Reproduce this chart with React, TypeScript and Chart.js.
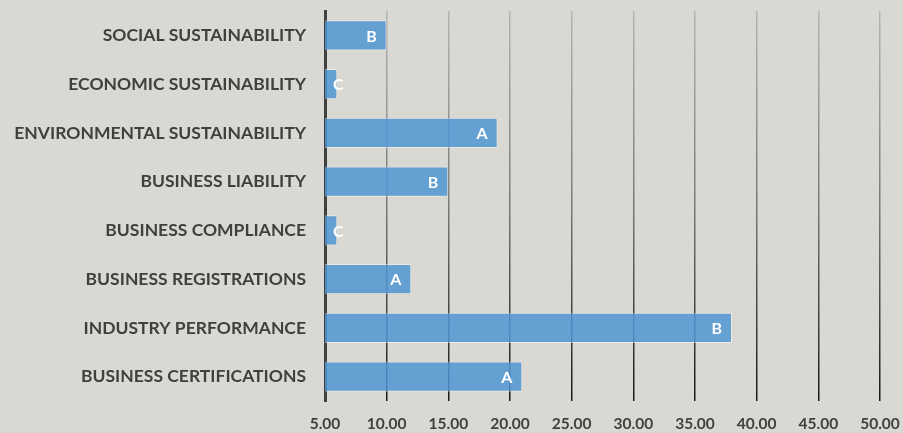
import React, { useEffect, useRef } from "react";
import { Chart, registerables } from "chart.js";

Chart.register(...registerables);

const categories = [
  "SOCIAL SUSTAINABILITY",
  "ECONOMIC SUSTAINABILITY",
  "ENVIRONMENTAL SUSTAINABILITY",
  "BUSINESS LIABILITY",
  "BUSINESS COMPLIANCE",
  "BUSINESS REGISTRATIONS",
  "INDUSTRY PERFORMANCE",
  "BUSINESS CERTIFICATIONS",
];
const scores = [10, 6, 19, 15, 6, 12, 38, 21];
const grades = ["B", "C", "A", "B", "C", "A", "B", "A"];
const xMin = 5;
const xMax = 50;
const xStep = 5;

const FONT = "Lato, 'DejaVu Sans', sans-serif";

const gradeLabels = {
  id: "gradeLabels",
  afterDatasetsDraw(chart: any) {
    const ctx = chart.ctx;
    const meta = chart.getDatasetMeta(0);
    const left = chart.chartArea.left;
    ctx.save();
    ctx.font = `bold 16px ${FONT}`;
    ctx.fillStyle = "#ffffff";
    ctx.textBaseline = "middle";
    ctx.textAlign = "left";
    meta.data.forEach((el: any, i: number) => {
      const t = grades[i];
      const w = ctx.measureText(t).width;
      const start = Math.max(el.base, left);
      const x = Math.max(start + 8, el.x - 10 - w);
      ctx.fillText(t, x, el.y + 1);
    });
    ctx.restore();
  },
};

export default function App() {
  const ref = useRef<HTMLCanvasElement>(null);
  useEffect(() => {
    const canvas = ref.current!;
    const chart = new Chart(canvas, {
      type: "bar",
      data: {
        labels: categories,
        datasets: [
          {
            data: scores,
            backgroundColor: "rgba(80,150,210,0.85)",
            borderColor: "rgba(255,255,255,0.45)",
            borderWidth: 1,
            borderSkipped: false,
            categoryPercentage: 1,
            barPercentage: 0.62,
          },
        ],
      },
      plugins: [gradeLabels],
      options: {
        indexAxis: "y",
        animation: false,
        responsive: true,
        maintainAspectRatio: false,
        layout: { padding: { top: 11, right: 23, left: 0, bottom: 0 } },
        plugins: { legend: { display: false }, tooltip: { enabled: false } },
        scales: {
          x: {
            type: "linear",
            min: xMin,
            max: xMax,
            ticks: {
              stepSize: xStep,
              padding: 14,
              color: "#404040",
              font: { family: FONT, size: 15.5, weight: "bold" },
              callback: (v: any) => Number(v).toFixed(2),
            },
            grid: {
              drawTicks: false,
              lineWidth: 1.5,
              color: (c: any) => {
                const ch = c.chart;
                const a = ch.chartArea;
                if (!a) return "#888";
                const g = ch.ctx.createLinearGradient(0, a.top, 0, a.bottom);
                g.addColorStop(0, "rgba(180,180,180,1)");
                g.addColorStop(0.5, "rgba(120,120,120,1)");
                g.addColorStop(1, "rgba(25,25,25,1)");
                return g;
              },
            },
            border: { display: false },
            afterFit: (s: any) => {
              s.height = 32;
              s.paddingLeft = 0;
              s.paddingRight = 0;
            },
          },
          y: {
            type: "category",
            ticks: {
              padding: 19,
              color: "#404040",
              font: { family: FONT, size: 17.5, weight: "bold" },
            },
            grid: { display: false, drawTicks: false },
            border: { display: true, color: "#404040", width: 3 },
            afterFit: (s: any) => {
              s.width = 325;
              s.paddingTop = 0;
              s.paddingBottom = 0;
            },
          },
        },
      },
    });
    return () => chart.destroy();
  }, []);
  return (
    <div
      style={{
        position: "fixed",
        left: 0,
        top: 0,
        width: 903,
        height: 433,
        background: "rgb(217,216,210)",
      }}
    >
      <canvas ref={ref} />
    </div>
  );
}
